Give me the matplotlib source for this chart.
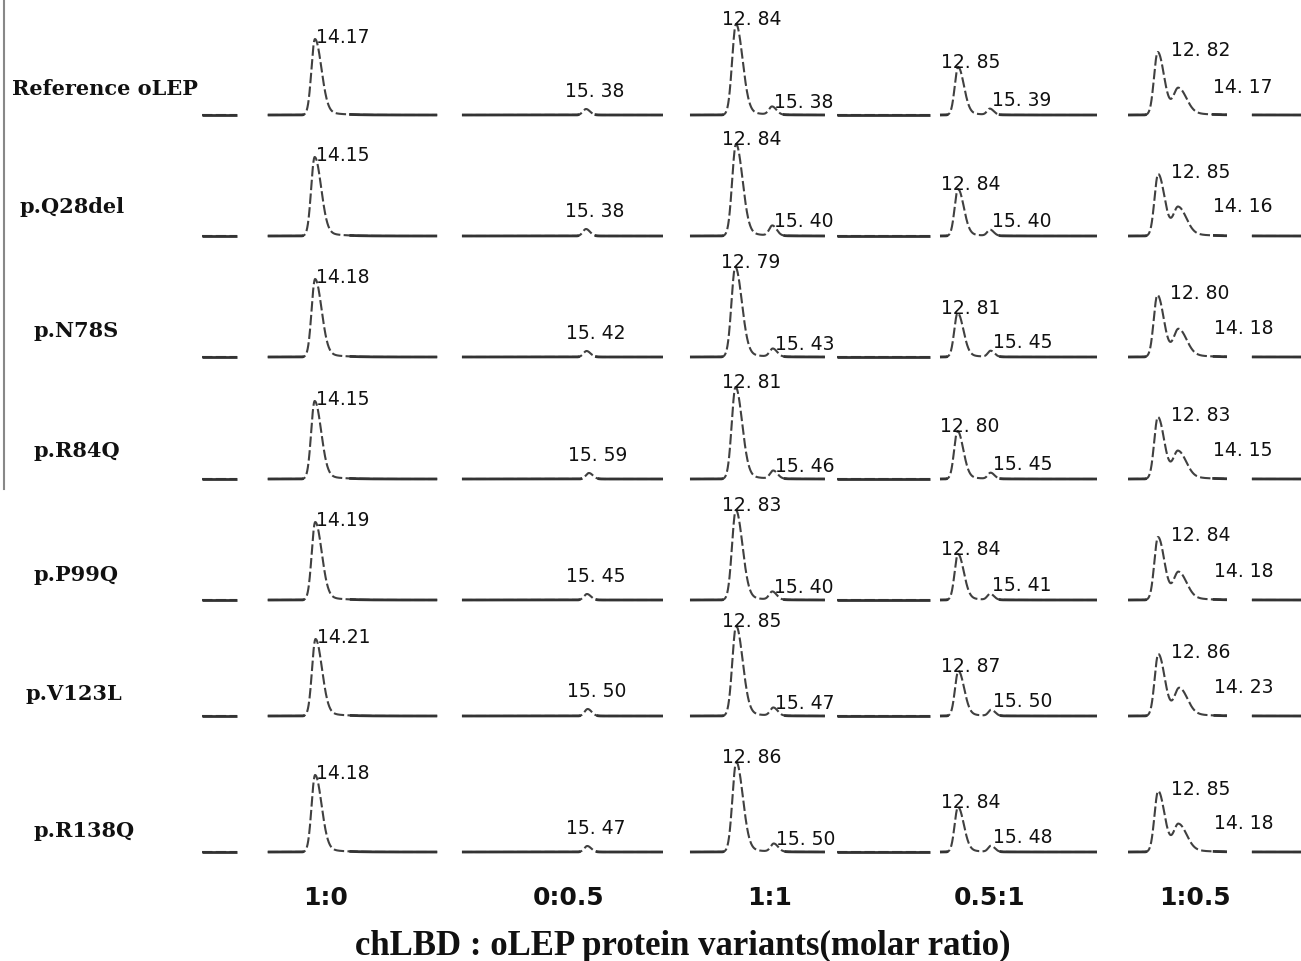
import numpy as np
import matplotlib.pyplot as plt
from matplotlib.lines import Line2D

W, H = 1301, 962

variants = ['Reference oLEP', 'p.Q28del', 'p.N78S', 'p.R84Q', 'p.P99Q', 'p.V123L', 'p.R138Q']
ratios = ['1:0', '0:0.5', '1:1', '0.5:1', '1:0.5']

# retention times (min) and peak heights (mAU), one value per variant
rt_10 = [14.17, 14.15, 14.18, 14.15, 14.19, 14.21, 14.18]
h_10 = [76, 79, 78, 78, 78, 77, 77]

rt_005 = [15.38, 15.38, 15.42, 15.59, 15.45, 15.50, 15.47]
h_005 = [6, 7, 6, 6, 6, 7, 6]

rt_11_a = [12.84, 12.84, 12.79, 12.81, 12.83, 12.85, 12.86]
h_11_a = [91, 92, 90, 92, 90, 90, 90]
rt_11_b = [15.38, 15.40, 15.43, 15.46, 15.40, 15.47, 15.50]
h_11_b = [8, 10, 8, 8, 8, 8, 8]

rt_051_a = [12.85, 12.84, 12.81, 12.80, 12.84, 12.87, 12.84]
h_051_a = [48, 47, 44, 48, 46, 45, 45]
rt_051_b = [15.39, 15.40, 15.45, 15.45, 15.41, 15.50, 15.48]
h_051_b = [6, 6, 6, 6, 6, 6, 6]

rt_105_a = [12.82, 12.85, 12.80, 12.83, 12.84, 12.86, 12.85]
h_105_a = [63, 62, 62, 62, 63, 62, 61]
rt_105_b = [14.17, 14.16, 14.18, 14.15, 14.18, 14.23, 14.18]
h_105_b = [27, 29, 28, 28, 28, 28, 28]

# peaks per column: (rt, height, sigma left, sigma right, tail, label dx, label dy)
columns = [
    [(rt_10, h_10, 0.25, 0.45, 0.09, 1, -3)],
    [(rt_005, h_005, 0.22, 0.28, 0.0, -21, 13)],
    [(rt_11_a, h_11_a, 0.27, 0.45, 0.08, -14, 0)],
    [(rt_051_a, h_051_a, 0.27, 0.45, 0.1, -17, 0)],
    [(rt_105_a, h_105_a, 0.24, 0.42, 0.0, 13, -3),
     (rt_105_b, h_105_b, 0.32, 0.5, 0.2, 35, -4)],
]
columns[2].append((rt_11_b, h_11_b, 0.22, 0.3, 0.0, 2, 0))
columns[3].append((rt_051_b, h_051_b, 0.22, 0.3, 0.0, 2, 4))

# layout (pixels) and time window of each column
col_px = [(200, 440), (460, 670), (688, 935), (935, 1100), (1125, 1301)]
col_xlim = [(5.96, 23.1), (6.38, 21.38), (9.46, 26.85), (11.0, 24.2), (10.68, 22.19)]
col_segs = [[(6.1, 8.6), (10.8, 22.9)],
            [(6.52, 20.88)],
            [(9.6, 19.1), (19.95, 26.5)],
            [(11.4, 23.96)],
            [(10.88, 17.35), (18.98, 22.19)]]
row_base = [116, 237, 358, 480, 601, 717, 853]
lab_x = [12, 20, 33, 33, 33, 25, 33]
lab_y = [95, 213, 337, 457, 581, 700, 837]
ratio_x = [326, 569, 770, 990, 1195]


def trace(t, peaks, r):
    y = np.zeros_like(t)
    for rts, hs, sl, sr, tail, *_ in peaks:
        mu, h = rts[r], hs[r]
        s = np.where(t < mu, sl, sr)
        y += h * np.exp(-0.5 * ((t - mu) / s) ** 2)
        if tail:
            d = np.clip(t - mu, 0, None)
            y += h * tail * np.where(t > mu, np.exp(-d / 1.0), 0) * (1 - np.exp(-0.5 * (d / sr) ** 2))
    return y


fig = plt.figure(figsize=(W / 100, H / 100), dpi=100)
ink = '#404040'

for r in range(len(variants)):
    for c, peaks in enumerate(columns):
        x0, x1 = col_px[c]
        ax = fig.add_axes([x0 / W, (H - row_base[r] - 5) / H, (x1 - x0) / W, 110 / H])
        ax.set_xlim(*col_xlim[c])
        ax.set_ylim(-5, 105)
        ax.axis('off')
        for a, b in col_segs[c]:
            t = np.linspace(a, b, 800)
            y = trace(t, peaks, r)
            ax.plot(t, y, color=ink, lw=1.5, dashes=(5, 1.6))
            flat = np.where(y < 0.6, y, np.nan)
            ax.plot(t, flat, color='#333333', lw=2.0, solid_capstyle='butt')
        for rts, hs, sl, sr, tail, dx, dy in peaks:
            txt = '{:.2f}'.format(rts[r])
            if c > 0:
                txt = txt.replace('.', '. ')
            ax.annotate(txt, xy=(rts[r], hs[r]), xytext=(dx, dy),
                        textcoords='offset pixels', ha='left', va='baseline',
                        fontsize=13.5, family='DejaVu Sans', color='#111111')
    fig.text(lab_x[r] / W, 1 - lab_y[r] / H, variants[r], ha='left', va='baseline',
             fontsize=15, family='DejaVu Serif', weight='bold', color='#111111')

for c, lab in enumerate(ratios):
    fig.text(ratio_x[c] / W, 1 - 905 / H, lab, ha='center', va='baseline',
             fontsize=18, family='DejaVu Sans', weight='bold', color='#111111')

fig.text(683 / W, 1 - 955 / H, 'chLBD : oLEP protein variants(molar ratio)',
         ha='center', va='baseline', fontsize=25, family='Liberation Serif',
         weight='bold', color='#111111')

fig.add_artist(Line2D([4 / W, 4 / W], [1, 1 - 490 / H], transform=fig.transFigure,
                      color='#888888', lw=1.5))

fig.savefig('out.png', dpi=100, facecolor='white')
